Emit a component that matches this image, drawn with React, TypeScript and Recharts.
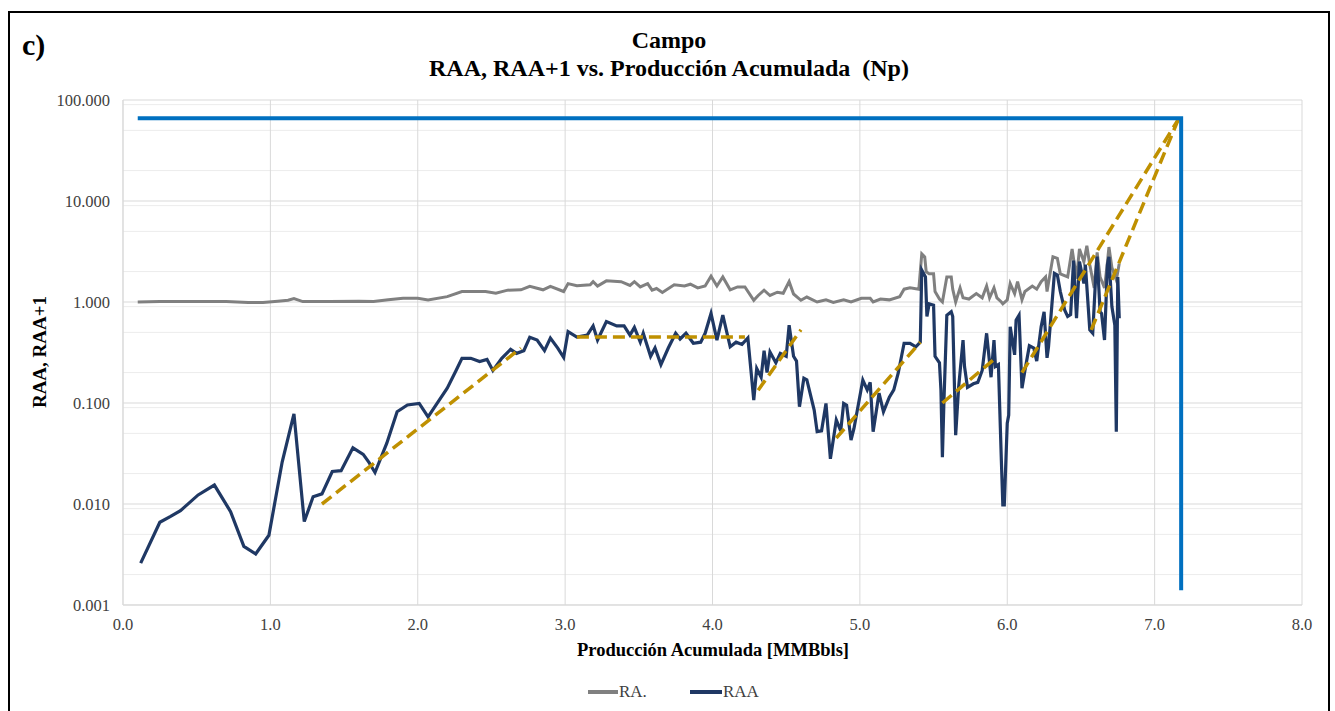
import React from "react";
import { LineChart, Line, XAxis, YAxis, CartesianGrid } from "recharts";

// RA. (RAA+1) series: [Np MMBbls, value]
const raPoints: [number, number][] = [
  [0.1, 1.0], [0.25, 1.01], [0.5, 1.01], [0.7, 1.01], [0.85, 0.99], [0.95, 0.99], [1.05, 1.02],
  [1.12, 1.04], [1.16, 1.08], [1.22, 1.01], [1.4, 1.01], [1.6, 1.02], [1.7, 1.01], [1.8, 1.05],
  [1.9, 1.09], [2.0, 1.09], [2.07, 1.05], [2.2, 1.13], [2.3, 1.27], [2.46, 1.27], [2.53, 1.22],
  [2.61, 1.31], [2.7, 1.32], [2.76, 1.43], [2.85, 1.32], [2.9, 1.43], [2.99, 1.27], [3.02, 1.52],
  [3.08, 1.45], [3.17, 1.48], [3.19, 1.59], [3.22, 1.44], [3.28, 1.62], [3.38, 1.59], [3.44, 1.46],
  [3.47, 1.59], [3.51, 1.41], [3.56, 1.52], [3.59, 1.31], [3.62, 1.36], [3.66, 1.24], [3.74, 1.48],
  [3.81, 1.44], [3.85, 1.5], [3.9, 1.38], [3.95, 1.44], [3.99, 1.8], [4.03, 1.44], [4.07, 1.77],
  [4.12, 1.32], [4.17, 1.41], [4.22, 1.41], [4.28, 1.04], [4.31, 1.16], [4.35, 1.31], [4.39, 1.16],
  [4.44, 1.25], [4.48, 1.22], [4.52, 1.59], [4.55, 1.2], [4.6, 1.04], [4.64, 1.12], [4.71, 1.0],
  [4.77, 1.05], [4.82, 0.99], [4.89, 1.05], [4.94, 1.0], [5.01, 1.09], [5.07, 1.09], [5.09, 1.0],
  [5.14, 1.07], [5.2, 1.05], [5.27, 1.13], [5.3, 1.34], [5.34, 1.38], [5.4, 1.34], [5.42, 3.0],
  [5.44, 2.8], [5.45, 2.0], [5.47, 1.9], [5.5, 1.9], [5.51, 1.27], [5.54, 1.07], [5.56, 1.0],
  [5.59, 1.77], [5.62, 1.77], [5.63, 1.34], [5.65, 1.0], [5.68, 1.38], [5.7, 1.1], [5.74, 1.07],
  [5.79, 1.21], [5.83, 1.1], [5.86, 1.44], [5.88, 1.1], [5.91, 1.38], [5.93, 1.1], [5.96, 1.0],
  [5.97, 0.96], [6.0, 1.05], [6.02, 1.52], [6.05, 1.21], [6.07, 1.59], [6.1, 1.05], [6.12, 1.27],
  [6.17, 1.44], [6.2, 1.34], [6.23, 1.59], [6.26, 1.77], [6.27, 1.27], [6.31, 2.8], [6.34, 2.7],
  [6.36, 1.9], [6.41, 1.77], [6.44, 3.35], [6.47, 1.7], [6.49, 3.35], [6.52, 2.5], [6.54, 3.6],
  [6.56, 2.34], [6.59, 1.38], [6.61, 3.1], [6.63, 1.77], [6.66, 1.38], [6.68, 2.5], [6.69, 3.5],
  [6.71, 2.2], [6.74, 1.65], [6.76, 2.4],
];

// RAA series
const raaPoints: [number, number][] = [
  [0.12, 0.0026], [0.25, 0.0066], [0.32, 0.0075], [0.39, 0.0086], [0.51, 0.0123], [0.62, 0.0154],
  [0.73, 0.0084], [0.82, 0.0038], [0.9, 0.0032], [0.99, 0.0049], [1.08, 0.026], [1.16, 0.078],
  [1.23, 0.0067], [1.29, 0.0118], [1.35, 0.0126], [1.42, 0.021], [1.48, 0.0214], [1.56, 0.036],
  [1.63, 0.031], [1.67, 0.0257], [1.71, 0.0205], [1.79, 0.04], [1.86, 0.082], [1.93, 0.0955],
  [2.01, 0.099], [2.07, 0.073], [2.2, 0.14], [2.26, 0.21], [2.3, 0.277], [2.36, 0.277], [2.42, 0.257],
  [2.47, 0.27], [2.51, 0.21], [2.57, 0.277], [2.63, 0.34], [2.67, 0.31], [2.72, 0.33], [2.76, 0.447],
  [2.81, 0.42], [2.86, 0.33], [2.9, 0.44], [2.95, 0.35], [2.99, 0.283], [3.02, 0.51], [3.08, 0.45],
  [3.15, 0.47], [3.19, 0.58], [3.22, 0.42], [3.28, 0.64], [3.35, 0.58], [3.4, 0.58], [3.44, 0.47],
  [3.47, 0.56], [3.51, 0.4], [3.53, 0.49], [3.58, 0.29], [3.61, 0.35], [3.65, 0.24], [3.7, 0.35],
  [3.75, 0.49], [3.78, 0.43], [3.82, 0.49], [3.87, 0.39], [3.92, 0.4], [3.95, 0.49], [3.99, 0.77],
  [4.03, 0.42], [4.07, 0.74], [4.12, 0.36], [4.16, 0.4], [4.2, 0.38], [4.24, 0.44], [4.28, 0.107],
  [4.3, 0.22], [4.33, 0.18], [4.35, 0.33], [4.37, 0.2], [4.39, 0.32], [4.43, 0.25], [4.46, 0.31],
  [4.5, 0.29], [4.52, 0.59], [4.55, 0.29], [4.57, 0.26], [4.59, 0.092], [4.62, 0.176], [4.64, 0.17],
  [4.69, 0.085], [4.71, 0.052], [4.74, 0.053], [4.77, 0.099], [4.8, 0.028], [4.84, 0.068],
  [4.87, 0.053], [4.89, 0.099], [4.91, 0.095], [4.94, 0.043], [4.96, 0.056], [5.02, 0.169],
  [5.05, 0.135], [5.07, 0.16], [5.09, 0.052], [5.13, 0.125], [5.16, 0.082], [5.2, 0.114],
  [5.23, 0.135], [5.26, 0.197], [5.3, 0.39], [5.34, 0.39], [5.38, 0.36], [5.41, 0.4], [5.42, 2.07],
  [5.445, 1.77], [5.455, 0.72], [5.47, 0.96], [5.5, 0.93], [5.51, 0.29], [5.54, 0.25], [5.55, 0.135],
  [5.56, 0.029], [5.57, 0.099], [5.59, 0.74], [5.62, 0.8], [5.63, 0.72], [5.65, 0.048], [5.67, 0.143],
  [5.7, 0.42], [5.71, 0.23], [5.73, 0.143], [5.77, 0.155], [5.8, 0.16], [5.83, 0.21], [5.86, 0.49],
  [5.89, 0.18], [5.91, 0.42], [5.92, 0.23], [5.94, 0.24], [5.96, 0.027], [5.97, 0.0098],
  [5.98, 0.0098], [6.0, 0.063], [6.01, 0.076], [6.02, 0.57], [6.05, 0.3], [6.06, 0.66], [6.08, 0.74],
  [6.1, 0.14], [6.12, 0.21], [6.15, 0.37], [6.18, 0.35], [6.2, 0.26], [6.23, 0.57], [6.25, 0.8],
  [6.27, 0.28], [6.28, 0.36], [6.32, 1.92], [6.34, 1.85], [6.36, 1.27], [6.39, 0.83], [6.41, 0.72],
  [6.43, 0.75], [6.45, 2.57], [6.47, 0.69], [6.49, 2.51], [6.52, 1.53], [6.53, 2.34], [6.56, 0.53],
  [6.58, 0.49], [6.6, 1.77], [6.61, 2.82], [6.63, 0.8], [6.64, 0.77], [6.66, 0.42], [6.68, 2.34],
  [6.69, 2.8], [6.71, 0.9], [6.73, 0.59], [6.74, 0.052], [6.75, 1.77], [6.76, 0.69],
];

// limit line (blue)
const limitPoints: [number, number][] = [[0.1, 66], [7.18, 66], [7.18, 0.0014]];

// dashed trend segments
const trendSegments: [number, number][][] = [
  [[1.35, 0.01], [2.7, 0.35]],
  [[3.08, 0.45], [4.22, 0.45]],
  [[4.31, 0.134], [4.6, 0.53]],
  [[4.84, 0.045], [5.41, 0.4]],
  [[5.56, 0.1], [5.91, 0.27]],
  [[6.1, 0.2], [7.16, 64]],
  [[6.57, 0.53], [7.16, 64]],
];

const xTicks = [0, 1, 2, 3, 4, 5, 6, 7, 8];
const yTicks = [0.001, 0.01, 0.1, 1, 10, 100];

const toRows = (pts: [number, number][]) => pts.map(([x, y]) => ({ x, y }));

const minorY: number[] = [];
for (const d of [0.001, 0.01, 0.1, 1, 10]) {
  for (let m = 2; m <= 9; m++) minorY.push(+(d * m).toPrecision(3));
}

const serif = '"Liberation Serif", "Times New Roman", serif';

export default function App() {
  return (
    <div
      style={{
        position: "absolute",
        left: 8,
        top: 11,
        width: 1318,
        height: 698,
        border: "2px solid #000",
        borderBottom: "none",
        background: "#fff",
        fontFamily: serif,
        color: "#000",
      }}
    >
      <div style={{ position: "absolute", left: 12, top: 15, fontSize: 30, fontWeight: "bold", lineHeight: "34px" }}>
        c)
      </div>
      <div
        style={{
          position: "absolute",
          left: 0,
          top: 13,
          width: "100%",
          textAlign: "center",
          fontSize: 24,
          fontWeight: "bold",
          lineHeight: "28px",
          whiteSpace: "pre",
        }}
      >
        <div>Campo</div>
        <div>RAA, RAA+1 vs. Producción Acumulada  (Np)</div>
      </div>

      <div style={{ position: "absolute", left: 0, top: 0 }}>
        <LineChart width={1318} height={698} margin={{ top: 87, right: 26, bottom: 76, left: 0 }}>
          <CartesianGrid stroke="#ececec" vertical={false} horizontalValues={minorY} />
          <CartesianGrid stroke="#d9d9d9" />
          <XAxis
            type="number"
            dataKey="x"
            domain={[0, 8]}
            ticks={xTicks}
            tickFormatter={(v: number) => v.toFixed(1)}
            axisLine={{ stroke: "#d9d9d9" }}
            tickLine={false}
            tickSize={0}
            tickMargin={13}
            height={30}
            tick={{ fill: "#404040", fontSize: 16.5, fontFamily: serif }}
            allowDataOverflow
          />
          <YAxis
            type="number"
            dataKey="y"
            scale="log"
            domain={[0.001, 100]}
            ticks={yTicks}
            tickFormatter={(v: number) => v.toFixed(3)}
            axisLine={{ stroke: "#d9d9d9" }}
            tickLine={false}
            tickSize={0}
            tickMargin={13}
            width={113}
            tick={{ fill: "#404040", fontSize: 16.5, fontFamily: serif }}
            allowDataOverflow
          />
          <Line
            data={toRows(raPoints)}
            dataKey="y"
            type="linear"
            stroke="#808080"
            strokeWidth={3}
            dot={false}
            isAnimationActive={false}
          />
          <Line
            data={toRows(raaPoints)}
            dataKey="y"
            type="linear"
            stroke="#1f3864"
            strokeWidth={3.2}
            dot={false}
            isAnimationActive={false}
          />
          {trendSegments.map((seg, i) => (
            <Line
              key={i}
              data={toRows(seg)}
              dataKey="y"
              type="linear"
              stroke="#bf9000"
              strokeWidth={3.5}
              strokeDasharray="12 6"
              dot={false}
              isAnimationActive={false}
            />
          ))}
          <Line
            data={toRows(limitPoints)}
            dataKey="y"
            type="linear"
            stroke="#0070c0"
            strokeWidth={4}
            dot={false}
            isAnimationActive={false}
          />
        </LineChart>
      </div>

      <div
        style={{
          position: "absolute",
          left: 30,
          top: 339,
          transform: "translate(-50%, -50%) rotate(-90deg)",
          fontSize: 19,
          fontWeight: "bold",
          whiteSpace: "nowrap",
        }}
      >
        RAA, RAA+1
      </div>
      <div
        style={{
          position: "absolute",
          left: 703,
          top: 637,
          transform: "translate(-50%, -50%)",
          fontSize: 18.5,
          fontWeight: "bold",
          whiteSpace: "nowrap",
        }}
      >
        Producción Acumulada [MMBbls]
      </div>

      <div style={{ position: "absolute", left: 578, top: 669, display: "flex", alignItems: "center", fontSize: 17, color: "#404040" }}>
        <span style={{ display: "inline-block", width: 30, height: 4, background: "#808080", marginRight: 1 }} />
        <span style={{ marginRight: 43 }}>RA.</span>
        <span style={{ display: "inline-block", width: 32, height: 4, background: "#1f3864", marginRight: 1 }} />
        <span>RAA</span>
      </div>
    </div>
  );
}
